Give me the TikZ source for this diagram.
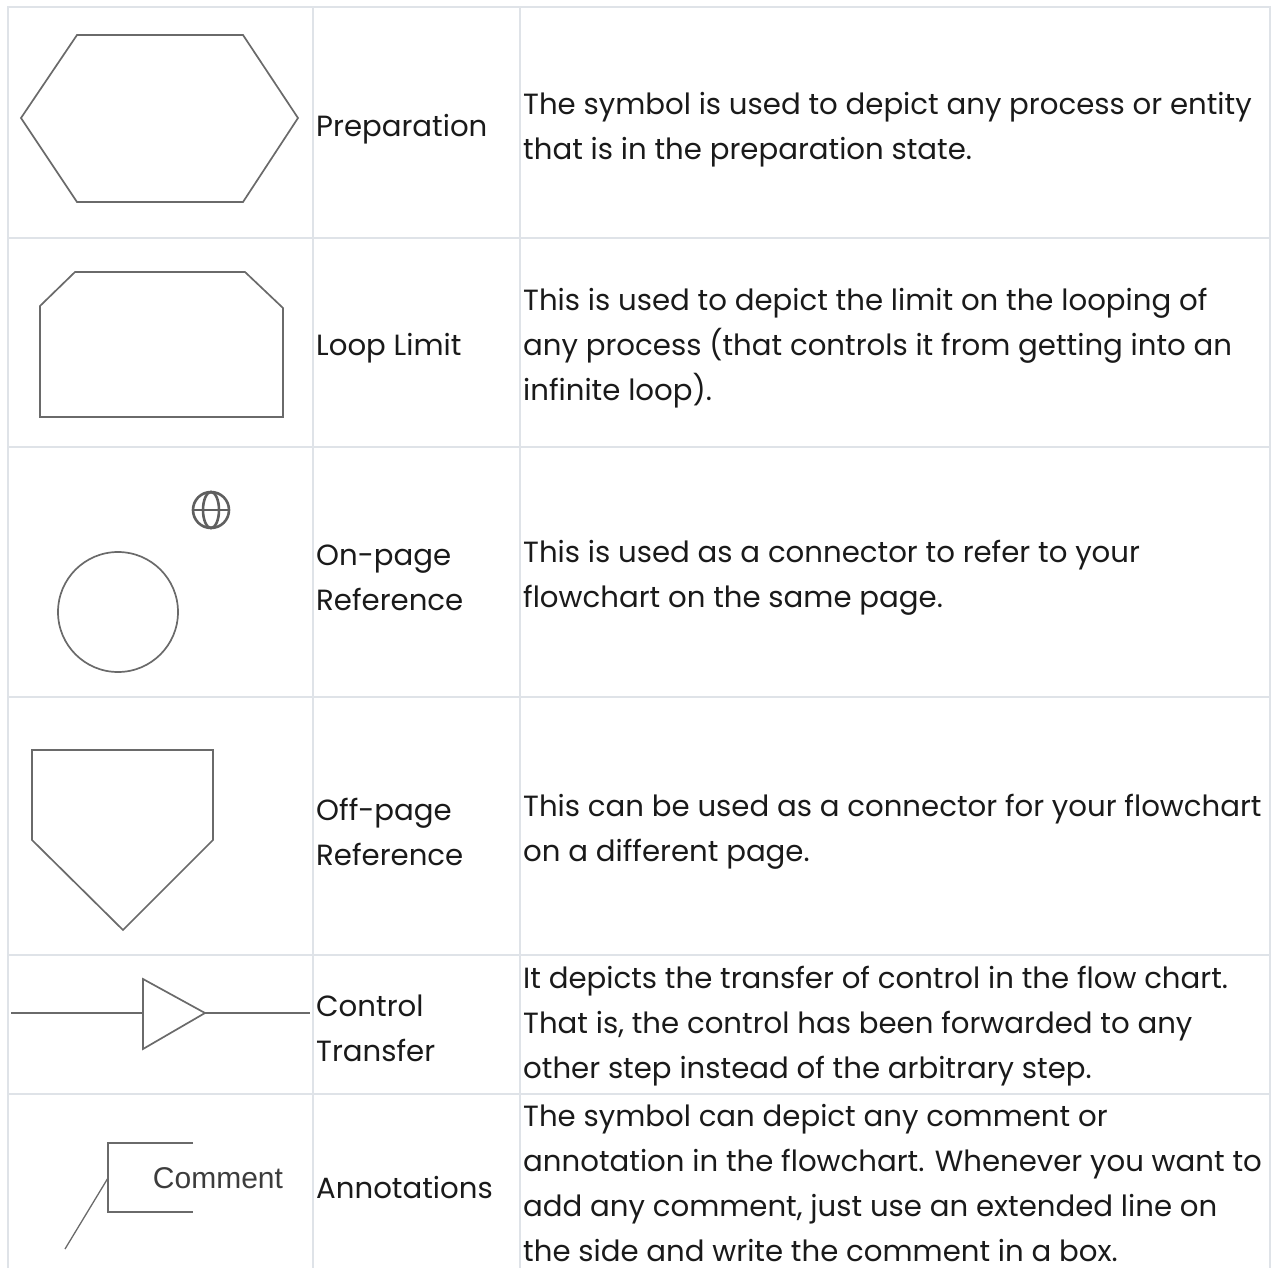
\documentclass[tikz,border=0pt]{standalone}
\usepackage{fontspec}
\setmainfont{Poppins}
\newfontfamily\arialfont{Liberation Sans}
\usepackage{tikz}
\usetikzlibrary{positioning}

\definecolor{gridgray}{HTML}{DFE3E8}
\definecolor{symgray}{HTML}{6A6A6A}
\definecolor{inkblack}{HTML}{1A1A1A}

\begin{document}
\begin{tikzpicture}[x=1pt,y=-1pt,
  grid/.style={draw=gridgray, line width=2pt},
  sym/.style={draw=symgray, line width=1.7pt, line join=miter},
  globe/.style={draw=symgray!90!black, line width=2.6pt},
  symname/.style={anchor=west, align=left, inner sep=0pt, text=inkblack,
    font=\fontsize{29.2}{45}\selectfont},
  desc/.style={anchor=west, align=left, inner sep=0pt, text=inkblack,
    font=\fontsize{29.2}{45}\selectfont}
]
\useasboundingbox (0,0) rectangle (1280,1268);

% Table grid
\draw[grid] (8,1268) -- (8,7) -- (1270,7) -- (1270,1268);
\foreach \y in {238,447,697,955,1094}
  \draw[grid] (8,\y) -- (1270,\y);
\foreach \x in {313,520}
  \draw[grid] (\x,7) -- (\x,1268);

% Preparation
\draw[sym] (21,118) -- (77,35) -- (243,35) -- (298,118) -- (243,202) -- (77,202) -- cycle;
\node[symname] (prepname) at (316,129) {Preparation};
\node[desc] (prepdesc) at (523,130) {The symbol is used to depict any process or entity\\that is in the preparation state.};

% Loop limit
\draw[sym] (40,306) -- (75,272) -- (245,272) -- (283,308) -- (283,417) -- (40,417) -- cycle;
\node[symname] (loopname) at (316,348) {Loop Limit};
\node[desc] (loopdesc) at (523,348) {This is used to depict the limit on the looping of\\any process (that controls it from getting into an\\infinite loop).};

% On-page reference
\draw[globe] (211,510) circle (18pt);
\draw[globe] (211,510) ellipse (8pt and 18pt);
\draw[globe] (193,510) -- (229,510);
\draw[sym] (118,612) circle (60pt);
\node[symname] (onname) at (316,578) {On-page\\Reference};
\node[desc] (ondesc) at (523,578) {This is used as a connector to refer to your\\flowchart on the same page.};

% Off-page reference
\draw[sym] (32,750) -- (213,750) -- (213,840) -- (123,930) -- (32,840) -- cycle;
\node[symname] (offname) at (316,832) {Off-page\\Reference};
\node[desc] (offdesc) at (523,832) {This can be used as a connector for your flowchart\\on a different page.};

% Control transfer
\draw[sym] (11,1013) -- (143,1013);
\draw[sym] (143,979) -- (205,1013) -- (143,1049) -- cycle;
\draw[sym] (205,1013) -- (310,1013);
\node[symname] (ctrlname) at (316,1028) {Control\\Transfer};
\node[desc] (ctrldesc) at (523,1026) {It depicts the transfer of control in the flow chart.\\That is, the control has been forwarded to any\\other step instead of the arbitrary step.};

% Annotations
\draw[sym, line width=1.3pt] (193,1143) -- (108,1143) -- (108,1212) -- (193,1212);
\draw[sym, line width=1.3pt] (108,1178) -- (65,1249);
\node[font=\arialfont\fontsize{30}{36}\selectfont, text=inkblack!85, inner sep=0pt] (comment) at (218,1178) {Comment};
\node[symname] (annname) at (316,1188) {Annotations};
\node[desc] (anndesc) at (523,1183) {The symbol can depict any comment or\\annotation in the flowchart. Whenever you want to\\add any comment, just use an extended line on\\the side and write the comment in a box.};
\end{tikzpicture}
\end{document}
